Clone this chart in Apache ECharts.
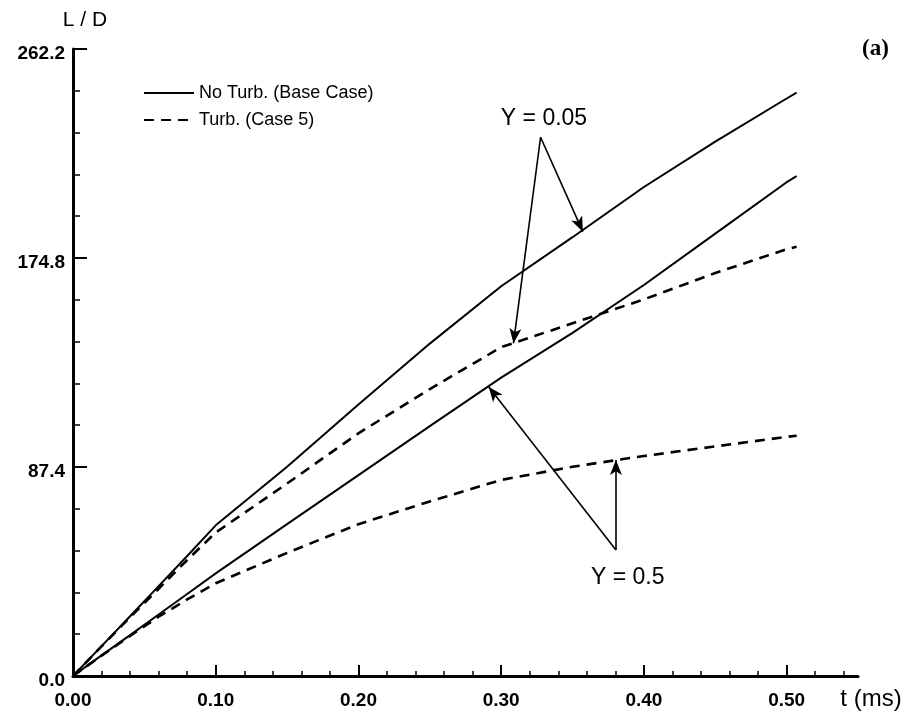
<!DOCTYPE html>
<html>
<head>
<meta charset="utf-8">
<script src="https://cdn.jsdelivr.net/npm/echarts@6/dist/echarts.min.js"></script>
<style>
  html, body { margin: 0; padding: 0; background: #fff; }
  #chart { width: 910px; height: 719px; }
</style>
</head>
<body>
<div id="chart"></div>
<script>
// Time samples (ms) shared by all four curves
const tValues = [0, 0.02, 0.04, 0.06, 0.08, 0.10, 0.15, 0.20, 0.25, 0.30, 0.35, 0.40, 0.45, 0.50, 0.507];

// L/D, no turbulence (base case)
const noTurbY005 = [0, 12.5, 25.0, 37.6, 50.2, 63.0, 87.5, 113.5, 139.0, 163.0, 183.5, 204.5, 223.5, 241.5, 244.0];
const noTurbY05  = [0, 8.6, 17.1, 25.7, 34.3, 42.9, 63.5, 84.0, 104.5, 124.8, 143.5, 163.5, 185.0, 206.5, 209.0];

// L/D, with turbulence (case 5)
const turbY005 = [0, 12.4, 24.6, 36.5, 48.5, 60.0, 80.5, 101.5, 120.0, 137.5, 147.5, 157.5, 168.5, 178.5, 179.5];
const turbY05  = [0, 8.5, 16.8, 24.8, 32.0, 38.8, 51.5, 63.5, 73.0, 82.0, 87.5, 92.0, 96.0, 100.0, 100.5];

// Axis ticks
const xTickLabels = [0, 0.10, 0.20, 0.30, 0.40, 0.50];
const xMinorTicks = [0.02, 0.04, 0.06, 0.08, 0.12, 0.14, 0.16, 0.18, 0.22, 0.24, 0.26, 0.28,
                     0.32, 0.34, 0.36, 0.38, 0.42, 0.44, 0.46, 0.48, 0.52, 0.54];
const yTickStep = 87.4;
const yMax = 262.2;

// Callouts: label position, and arrows from a shared apex to a curve
const calloutY005 = { label: 'Y = 0.05', at: [0.330, 233], apex: [0.3276, 225.3],
                      tips: [[0.3572, 185.8], [0.3086, 139.1]] };
const calloutY05  = { label: 'Y = 0.5', at: [0.3887, 41.0], apex: [0.3804, 52.7],
                      tips: [[0.2912, 121.0], [0.3804, 90.3]] };

const SOLID = 'No Turb. (Base Case)';
const DASHED = 'Turb. (Case 5)';
const FONT = 'Liberation Sans, Arial, Helvetica, sans-serif';

const pairs = (ys) => tValues.map((t, i) => [t, ys[i]]);

function curve(name, ys, dashed) {
  return {
    name, type: 'line', data: pairs(ys), symbol: 'none', smooth: false,
    silent: true, z: 3,
    lineStyle: { color: '#000', width: dashed ? 2.6 : 2, type: dashed ? [10, 7] : 'solid' },
    itemStyle: { color: '#000' }
  };
}

function arrows(c) {
  return c.tips.map(tip => [{ coord: c.apex }, { coord: tip }]);
}

const chart = echarts.init(document.getElementById('chart'), null, { renderer: 'canvas' });

chart.setOption({
  animation: false,
  backgroundColor: '#fff',
  grid: { left: 73, right: 52, top: 49, bottom: 43 },
  legend: {
    data: [SOLID, DASHED],
    orient: 'vertical', left: 138, top: 79,
    itemWidth: 50, itemHeight: 14, itemGap: 9,
    itemStyle: { opacity: 0 },
    textStyle: { fontFamily: FONT, fontSize: 18, color: '#000' },
    selectedMode: false
  },
  xAxis: [{
    type: 'value', min: 0, max: 0.55, interval: 0.1,
    name: 't (ms)', nameLocation: 'end', nameGap: 13,
    nameTextStyle: { fontFamily: FONT, fontSize: 24, color: '#000', align: 'center',
                     verticalAlign: 'top', padding: [11, 0, 0, 0] },
    axisLine: { lineStyle: { color: '#000', width: 3 } },
    axisTick: { inside: true, length: 11, customValues: xTickLabels, lineStyle: { color: '#000', width: 2 } },
    axisLabel: { customValues: xTickLabels, formatter: v => v.toFixed(2), margin: 15,
                 fontFamily: FONT, fontSize: 19, fontWeight: 'bold', color: '#000' },
    splitLine: { show: false }
  }, {
    type: 'value', min: 0, max: 0.55, position: 'bottom', offset: 0,
    axisLine: { show: false },
    axisTick: { inside: true, length: 5, customValues: xMinorTicks, lineStyle: { color: '#000', width: 1.5 } },
    axisLabel: { show: false },
    splitLine: { show: false }
  }],
  yAxis: {
    type: 'value', min: 0, max: yMax, interval: yTickStep,
    name: 'L / D', nameLocation: 'end', nameGap: 18,
    nameTextStyle: { fontFamily: FONT, fontSize: 21, color: '#000', align: 'center',
                     verticalAlign: 'bottom', padding: [0, 0, 0, 24] },
    axisLine: { lineStyle: { color: '#000', width: 3 } },
    axisTick: { inside: true, length: 14, lineStyle: { color: '#000', width: 2 } },
    minorTick: { show: true, splitNumber: 5, length: 7, lineStyle: { color: '#000', width: 1.5 } },
    axisLabel: { formatter: v => v.toFixed(1), margin: 8, verticalAlign: 'top', lineHeight: 10,
                 fontFamily: FONT, fontSize: 19, fontWeight: 'bold', color: '#000' },
    splitLine: { show: false }
  },
  graphic: [{
    type: 'text', left: 862, top: 38,
    style: { text: '(a)', font: 'bold 23px "Liberation Serif", "Times New Roman", serif', fill: '#000' }
  }],
  series: [
    curve(SOLID, noTurbY005, false),
    curve(SOLID, noTurbY05, false),
    curve(DASHED, turbY005, true),
    curve(DASHED, turbY05, true),
    {
      name: 'callouts', type: 'line', data: [], silent: true, z: 4,
      markLine: {
        silent: true, animation: false,
        symbol: ['none', 'arrow'], symbolSize: [9, 15],
        label: { show: false },
        lineStyle: { color: '#000', width: 1.6, type: 'solid' },
        data: [...arrows(calloutY005), ...arrows(calloutY05)]
      },
      markPoint: {
        silent: true, animation: false,
        symbol: 'circle', symbolSize: 0,
        label: { show: true, position: 'inside', color: '#000', fontFamily: FONT, fontSize: 23,
                 formatter: p => p.name },
        data: [
          { name: calloutY005.label, coord: calloutY005.at },
          { name: calloutY05.label, coord: calloutY05.at }
        ]
      }
    }
  ]
});
</script>
</body>
</html>
